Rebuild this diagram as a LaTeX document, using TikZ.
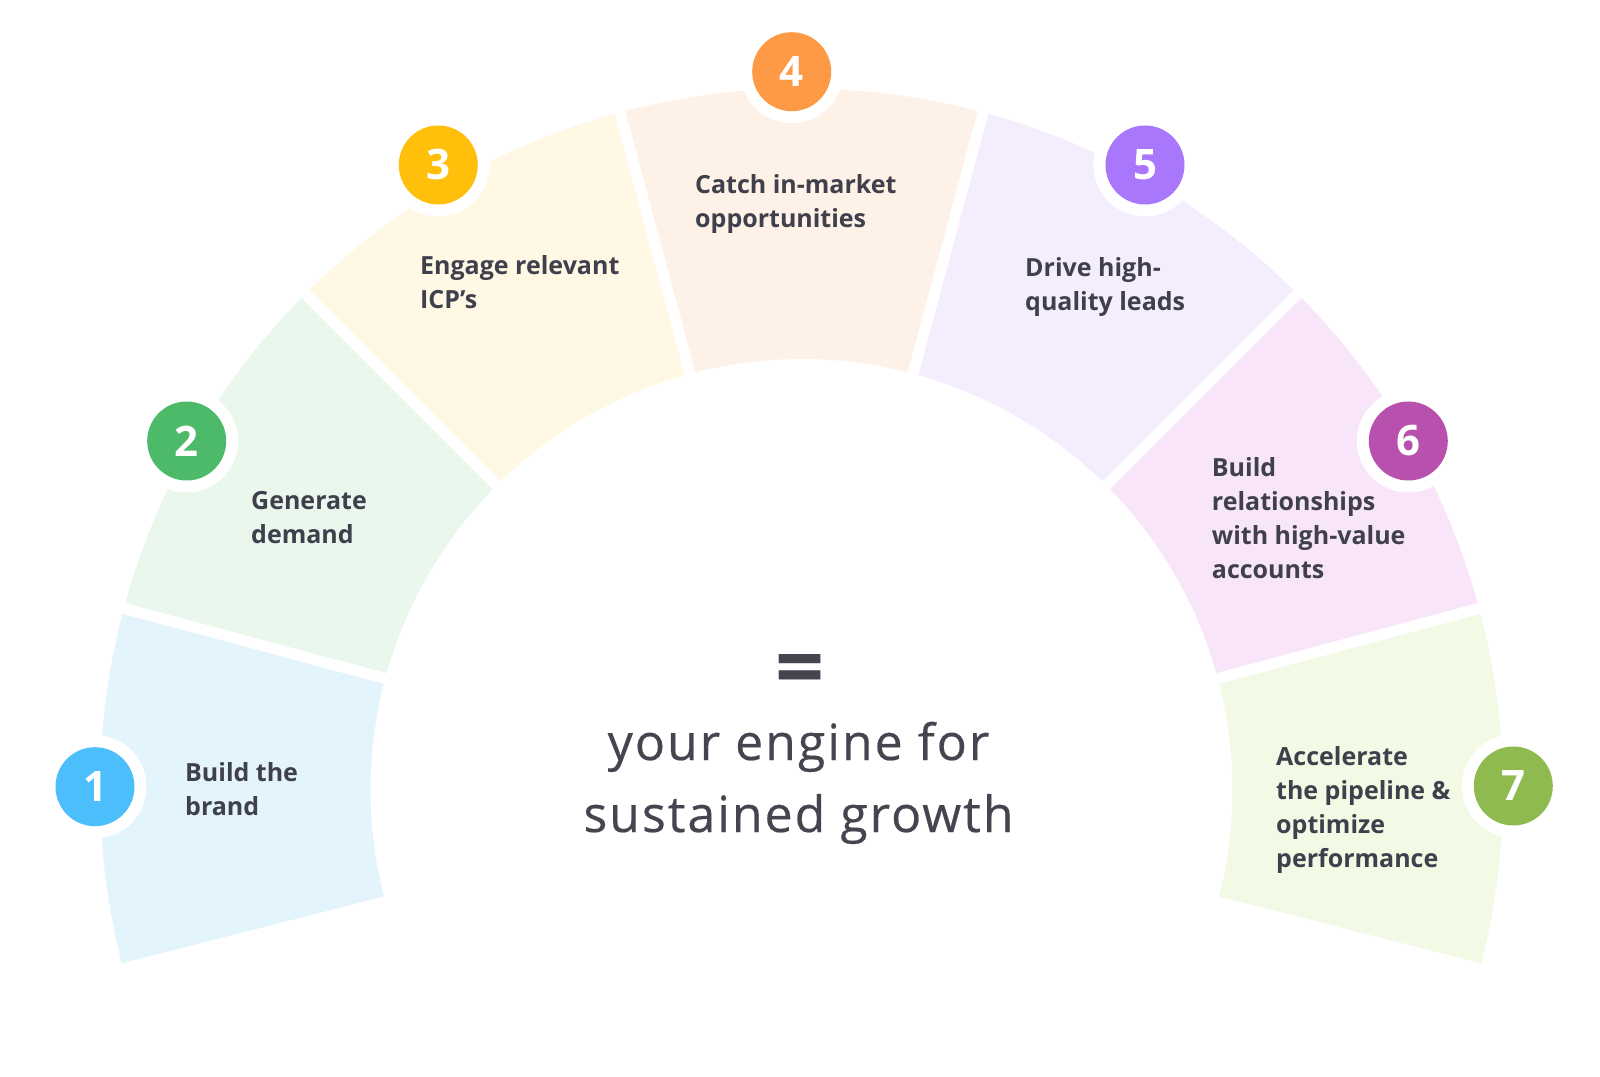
\documentclass[tikz,border=0pt]{standalone}
\usepackage{fontspec}
\setmainfont{Open Sans}
\newfontfamily\headfont[LetterSpace=4,FakeBold=0.4]{Open Sans}
\definecolor{s1}{HTML}{E3F4FD}
\definecolor{s2}{HTML}{E9F7EC}
\definecolor{s3}{HTML}{FEF8E5}
\definecolor{s4}{HTML}{FEF1E7}
\definecolor{s5}{HTML}{F3EDFE}
\definecolor{s6}{HTML}{F9E5FA}
\definecolor{s7}{HTML}{F2FAE5}
\definecolor{c1}{HTML}{4DBEFC}
\definecolor{c2}{HTML}{4DBA6A}
\definecolor{c3}{HTML}{FFBF0B}
\definecolor{c4}{HTML}{FE9A45}
\definecolor{c5}{HTML}{A877FC}
\definecolor{c6}{HTML}{B851AD}
\definecolor{c7}{HTML}{8FBA4F}
\definecolor{txt}{HTML}{3F404C}
\definecolor{main}{HTML}{44454F}
\tikzset{
  ring/.style={circle, fill=white, minimum size=103pt, inner sep=0pt},
  num/.style={circle, minimum size=79pt, inner sep=0pt, text=white, font=\fontsize{42}{42}\selectfont\bfseries},
  lbl/.style={anchor=base west, inner sep=0pt, align=left, text=txt, font=\fontsize{25}{34}\selectfont\bfseries},
  gapline/.style={white, line width=11pt}
}
\begin{document}
\begin{tikzpicture}[x=1pt,y=1pt]
\fill[white] (-801.5,-286) rectangle (798.5,790);
\useasboundingbox (-801.5,-286) rectangle (798.5,790);
\def\Rin{431}
\def\Rout{701.5}
\foreach \cc/\sa/\sb in {s1/194.3/165,s2/165/135,s3/135/105,s4/105/75,s5/75/45,s6/45/15,s7/15/-14.3}{
  \fill[\cc] (\sa:\Rin) -- (\sa:\Rout) arc[start angle=\sa, end angle=\sb, radius=\Rout] -- (\sb:\Rin) arc[start angle=\sb, end angle=\sa, radius=\Rin] -- cycle;
}
\foreach \ga in {165,135,105,75,45,15}
  \draw[gapline] (\ga:400) -- (\ga:730);

% labels (anchor = baseline of last line)
\node[lbl] (t1) at (-616.5,-25.7) {Build the\\brand};
\node[lbl] (t2) at (-550.5,246) {Generate\\demand};
\node[lbl] (t3) at (-381.5,481) {Engage relevant\\ICP’s};
\node[lbl] (t4) at (-106.5,562) {Catch in-market\\opportunities};
\node[lbl] (t5) at (223.5,479.3) {Drive high-\\quality leads};
\node[lbl] (t6) at (410.2,211.3) {Build\\relationships\\with high-value\\accounts};
\node[lbl] (t7) at (474.5,-77) {Accelerate\\the pipeline \&\\optimize\\performance};

% number circles
\foreach \p/\cc/\n in {{(-706.5,3.3)}/c1/1,{(-614.8,349)}/c2/2,{(-363.2,625)}/c3/3,{(-9.8,718.3)}/c4/4,{(343.5,625)}/c5/5,{(606.8,349)}/c6/6,{(711.8,4)}/c7/7}{
  \node[ring] (r\n) at \p {};
  \node[num, fill=\cc] (n\n) at \p {\n};
}

% center text
\node[inner sep=0pt, text=main, font=\fontsize{86}{86}\selectfont\bfseries] (eq) at (-1.5,114) {=};
\node[anchor=base, inner sep=0pt, align=center, text=main, font=\headfont\fontsize{50}{72}\selectfont] (mt) at (-3,-42) {your engine for\\sustained growth};
\end{tikzpicture}
\end{document}
